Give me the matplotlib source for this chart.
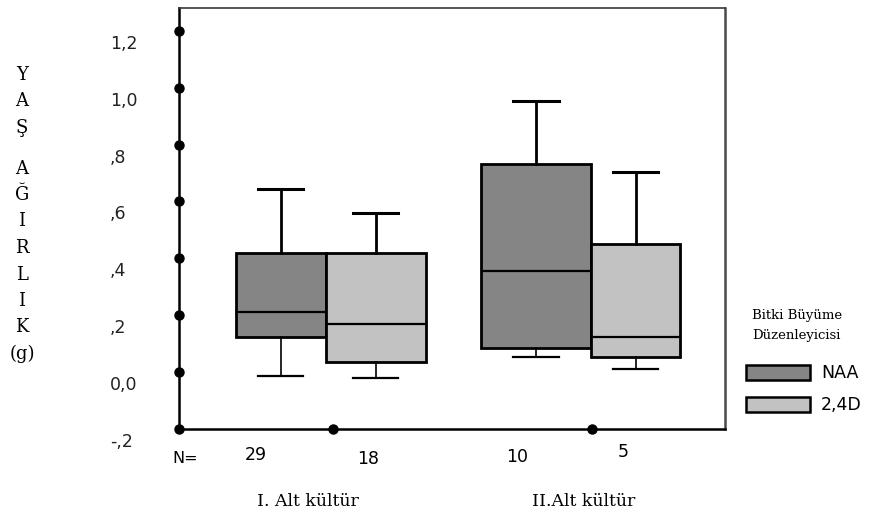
import numpy as np
import matplotlib
matplotlib.use("Agg")
import matplotlib.pyplot as plt
import matplotlib.transforms as mtransforms
from matplotlib.patches import Rectangle

# ---- data ----
groups = ["I. Alt kültür", "II.Alt kültür"]
regulators = ["NAA", "2,4D"]
box_colors = ["#858585", "#c2c2c2"]

# order: I-NAA, I-2,4D, II-NAA, II-2,4D
q1 = [0.123, 0.035, 0.084, 0.053]
med = [0.210, 0.168, 0.354, 0.123]
q3 = [0.418, 0.418, 0.730, 0.449]
whis_lo = [-0.014, -0.021, 0.053, 0.011]
whis_hi = [0.642, 0.558, 0.954, 0.705]
n_counts = [29, 18, 10, 5]

ytick_vals = [-0.2, 0.0, 0.2, 0.4, 0.6, 0.8, 1.0, 1.2]
ytick_labels = ["-,2", "0,0", ",2", ",4", ",6", ",8", "1,0", "1,2"]

W, H = 877, 516


def fx(px):
    return px / W


def fy(py):
    return 1 - py / H


fig = plt.figure(figsize=(W / 100, H / 100), dpi=100)
ax = fig.add_axes([fx(179), fy(429), fx(725) - fx(179), fy(8) - fy(429)])

# box widths as drawn in the original (boxes touch at the group centre)
box_w = [0.34, 0.377, 0.415, 0.336]
positions = []
for g in range(len(groups)):
    wl, wr = box_w[2 * g], box_w[2 * g + 1]
    positions += [g + 1 - wl / 2, g + 1 + wr / 2]

stats = []
for i in range(len(med)):
    stats.append(dict(med=med[i], q1=q1[i], q3=q3[i],
                      whislo=whis_lo[i], whishi=whis_hi[i], fliers=[]))

res = ax.bxp(stats, positions=positions, widths=box_w, patch_artist=True,
             capwidths=[0.17] * 4,
             boxprops=dict(linewidth=2, edgecolor="black"),
             medianprops=dict(color="black", linewidth=1.6),
             whiskerprops=dict(color="black", linewidth=1.2),
             capprops=dict(color="black", linewidth=1.6))

for i, box in enumerate(res["boxes"]):
    box.set_facecolor(box_colors[i % 2])
# upper whiskers drawn heavier than lower ones
for k, line in enumerate(res["whiskers"]):
    if k % 2 == 1:
        line.set_linewidth(2.0)
for k, line in enumerate(res["caps"]):
    if k % 2 == 1:
        line.set_linewidth(2.2)
    else:
        line.set_linewidth(1.6)

ax.set_xlim(0.4453, 2.5057)
ax.set_ylim(-0.2, 1.28)

for side in ["left", "bottom"]:
    ax.spines[side].set_linewidth(1.8)
    ax.spines[side].set_color("black")
ax.spines["top"].set_linewidth(1.2)
ax.spines["top"].set_color("#3a3a3a")
ax.spines["right"].set_linewidth(1.8)
ax.spines["right"].set_color("#4a4a4a")

# dots on the axes
ax.plot([ax.get_xlim()[0]] * len(ytick_vals), ytick_vals, "o", color="black",
        ms=6.5, clip_on=False, zorder=6)
ax.plot([1.025, 2.005], [-0.2, -0.2], "o", color="black", ms=6.5,
        clip_on=False, zorder=6)

ax.set_xticks([])
ax.set_yticks(ytick_vals, ytick_labels)
ax.tick_params(axis="y", length=0, pad=(179 - 110) * 0.72, labelsize=12.5,
               labelcolor="#222222")
offset = mtransforms.ScaledTranslation(0, -11 / 100, fig.dpi_scale_trans)
for lab in ax.get_yticklabels():
    lab.set_ha("left")
    lab.set_transform(lab.get_transform() + offset)

# N= row
ax.text(0.468, -0.305, "N=", ha="center", va="center", fontsize=11.5,
        clip_on=False)
n_shift = [-0.095, -0.03, -0.07, -0.045]
n_y = [-0.29, -0.305, -0.297, -0.28]
for i, n in enumerate(n_counts):
    ax.text(positions[i] + n_shift[i], n_y[i], str(n), ha="center", va="center",
            fontsize=12.5, clip_on=False)

# group labels
group_x = [308, 584]
for g, lab in enumerate(groups):
    fig.text(fx(group_x[g]), fy(502), lab, ha="center", va="center",
             fontsize=12.5, family="DejaVu Serif")

# stacked y label
letters = ["Y", "A", "Ş", None, "A", "Ğ", "I", "R", "L", "I", "K", "(g)"]
ypix = 75
for ch in letters:
    if ch is None:
        ypix += 14
        continue
    fig.text(fx(22), fy(ypix), ch, ha="center", va="center", fontsize=13,
             family="DejaVu Serif")
    ypix += 26.5

# legend
fig.text(fx(752), fy(315), "Bitki Büyüme", ha="left", va="center",
         fontsize=9.5, family="DejaVu Serif")
fig.text(fx(752), fy(335), "Düzenleyicisi", ha="left", va="center",
         fontsize=9.5, family="DejaVu Serif")
leg_y = [365, 397]
for i, name in enumerate(regulators):
    fig.add_artist(Rectangle((fx(746), fy(leg_y[i] + 15)), fx(64), 15 / H,
                             transform=fig.transFigure, facecolor=box_colors[i],
                             edgecolor="black", linewidth=1.8))
    fig.text(fx(821), fy(leg_y[i] + 8), name, ha="left", va="center",
             fontsize=12.5)

fig.savefig("out.png", dpi=100)
